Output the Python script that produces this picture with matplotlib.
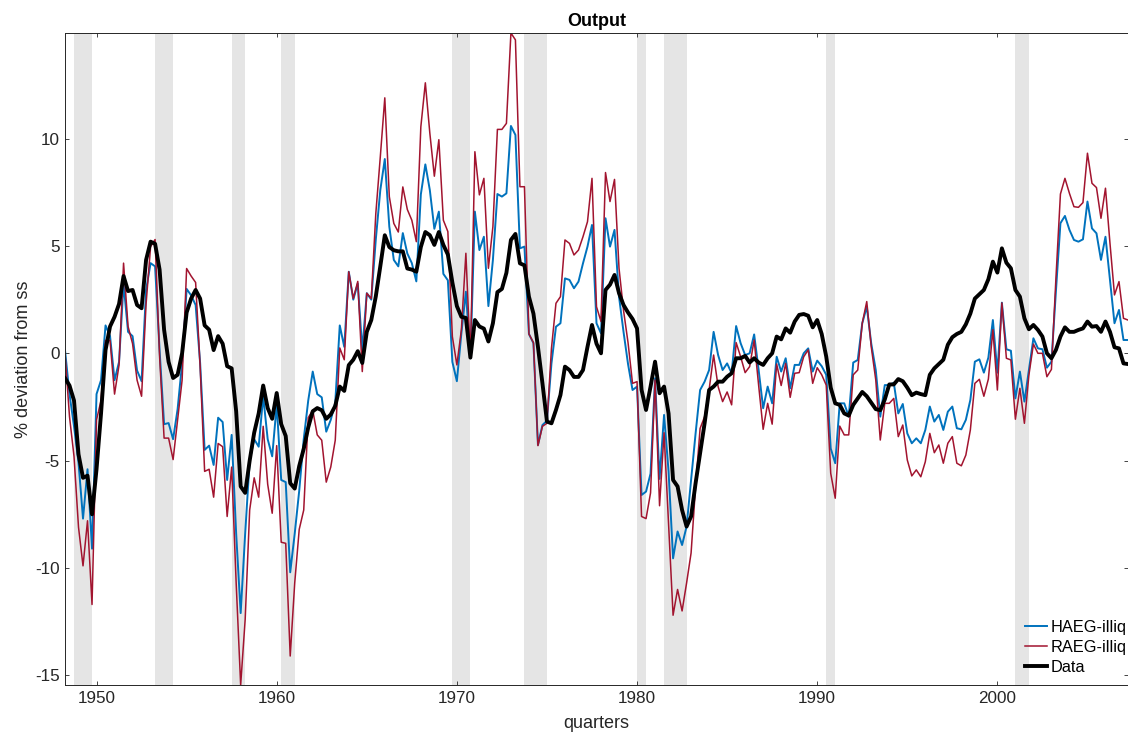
import numpy as np
import matplotlib
matplotlib.use("Agg")
import matplotlib.pyplot as plt

plt.rcParams['font.family'] = ['Liberation Sans', 'DejaVu Sans']
plt.rcParams['axes.unicode_minus'] = False

# quarterly dates: 1948Q2 .. 2007Q2 (year + (q-1)/4)
t_start = 1948.25
n_quarters = 237
quarters = t_start + 0.25 * np.arange(n_quarters)

# NBER recessions (peak, trough) as year fractions
rec_start = [1948.75, 1953.25, 1957.5, 1960.25, 1969.75, 1973.75, 1980.0, 1981.5, 1990.5, 2001.0]
rec_end = [1949.75, 1954.25, 1958.25, 1961.0, 1970.75, 1975.0, 1980.5, 1982.75, 1991.0, 2001.75]

haeg = [
    0.15, -1.9, -3.4,                      # 1948
    -5.1, -7.7, -5.4, -9.1,                # 1949
    -1.9, -1.25, 1.3, 0.8,                 # 1950
    -1.25, -0.4, 3.25, 1.0,                # 1951
    0.8, -0.8, -1.3, 2.95,                 # 1952
    4.2, 4.05, 0.15, -3.3,                 # 1953
    -3.25, -4.0, -2.6, -0.45,              # 1954
    3.0, 2.7, 2.25, -0.45,                 # 1955
    -4.5, -4.3, -5.2, -3.0,                # 1956
    -3.2, -5.9, -3.8, -8.4,                # 1957
    -12.1, -8.4, -5.0, -4.0,               # 1958
    -4.35, -2.0, -4.0, -4.8,               # 1959
    -2.4, -5.9, -6.0, -10.2,               # 1960
    -8.4, -6.4, -4.0, -2.2,                # 1961
    -0.85, -1.9, -2.05, -3.65,             # 1962
    -3.1, -2.3, 1.3, 0.3,                  # 1963
    3.8, 2.5, 3.25, 0.15,                  # 1964
    2.8, 2.5, 5.3, 7.6,                    # 1965
    9.05, 5.9, 4.35, 4.05,                 # 1966
    5.6, 4.65, 4.2, 3.35,                  # 1967
    7.4, 8.8, 7.6, 5.8,                    # 1968
    6.6, 3.7, 3.4, -0.4,                   # 1969
    -1.3, 0.93, 2.87, -0.23,               # 1970
    6.6, 4.81, 5.43, 2.2,                  # 1971
    4.35, 7.42, 7.3, 7.45,                 # 1972
    10.59, 10.17, 4.89, 4.97,              # 1973
    0.9, 0.47, -4.27, -3.34,               # 1974
    -3.14, -0.47, 1.24, 1.4,               # 1975
    3.49, 3.42, 3.03, 3.34,                # 1976
    4.19, 4.97, 5.98, 1.4,                 # 1977
    0.93, 6.29, 4.97, 5.75,                # 1978
    2.64, 1.0, -0.5, -1.71,                # 1979
    -1.55, -6.6, -6.44, -5.6,              # 1980
    -1.16, -5.85, -2.87, -5.5,             # 1981
    -9.55, -8.3, -8.93, -8.07,             # 1982
    -5.9, -3.73, -1.71, -1.32,             # 1983
    -0.78, 1.0, -0.08, -0.78,              # 1984
    -0.47, -0.93, 1.27, 0.47,              # 1985
    -0.08, 0.0, 0.88, -0.78,               # 1986
    -2.56, -1.55, -2.33, -0.16,            # 1987
    -0.85, -0.23, -1.63, -0.54,            # 1988
    -0.54, 0.0, 0.23, -0.85,               # 1989
    -0.34, -0.6, -1.0, -4.43,              # 1990
    -5.12, -2.33, -2.33, -2.95,            # 1991
    -0.43, -0.31, 1.4, 2.17,               # 1992
    0.45, -0.78, -2.95, -1.48,             # 1993
    -1.48, -1.37, -2.8, -2.36,             # 1994
    -3.73, -4.19, -3.96, -4.19,            # 1995
    -3.57, -2.48, -3.18, -2.87,            # 1996
    -3.57, -2.72, -2.48, -3.49,            # 1997
    -3.54, -3.1, -2.17, -0.39,             # 1998
    -0.28, -0.9, -0.2, 1.55,               # 1999
    -0.9, 2.36, 0.19, 0.12,                # 2000
    -2.1, -0.85, -2.25, -0.78,             # 2001
    0.7, 0.23, 0.19, -0.67,                # 2002
    -0.39, 2.9, 6.06, 6.4,                 # 2003
    5.75, 5.28, 5.2, 5.31,                 # 2004
    7.07, 5.82, 5.59, 4.35,                # 2005
    5.43, 3.42, 1.4, 2.02,                 # 2006
    0.62, 0.62,                            # 2007
]

raeg = [
    0.0, -2.95, -4.8,                      # 1948
    -8.1, -9.9, -7.8, -11.7,               # 1949
    -3.1, -2.2, 0.6, 0.6,                  # 1950
    -1.9, -0.55, 4.2, 1.25,                # 1951
    0.45, -1.25, -2.0, 2.3,                # 1952
    4.97, 5.3, -0.15, -3.95,               # 1953
    -3.95, -4.95, -3.1, -1.25,             # 1954
    3.95, 3.6, 3.3, -0.6,                  # 1955
    -5.5, -5.4, -6.7, -4.2,                # 1956
    -4.35, -7.6, -5.3, -10.7,              # 1957
    -15.45, -12.4, -7.3, -5.8,             # 1958
    -6.7, -3.4, -6.1, -7.45,               # 1959
    -4.3, -8.8, -8.85, -14.1,              # 1960
    -10.7, -8.2, -7.3, -3.0,               # 1961
    -2.65, -3.8, -4.05, -6.0,              # 1962
    -5.3, -4.05, 0.25, -0.3,               # 1963
    3.8, 2.55, 3.35, -0.85,                # 1964
    2.8, 2.55, 6.5, 9.15,                  # 1965
    11.9, 7.3, 6.05, 5.65,                 # 1966
    7.75, 6.7, 6.2, 5.2,                   # 1967
    10.55, 12.6, 10.25, 8.25,              # 1968
    9.95, 6.2, 5.67, 0.78,                 # 1969
    -0.54, 1.09, 4.66, -0.23,              # 1970
    9.39, 7.38, 8.15, 3.96,                # 1971
    5.9, 10.43, 10.43, 10.71,              # 1972
    14.92, 14.6, 7.76, 7.76,               # 1973
    0.9, 0.5, -4.3, -3.4,                  # 1974
    -3.26, 0.23, 2.33, 2.64,               # 1975
    5.28, 5.12, 4.58, 4.81,                # 1976
    5.43, 6.13, 8.15, 2.17,                # 1977
    1.48, 8.42, 7.07, 8.1,                 # 1978
    3.96, 2.0, 0.5, -1.4,                  # 1979
    -1.32, -7.6, -7.7, -6.5,               # 1980
    -1.24, -7.1, -3.7, -8.0,               # 1981
    -12.2, -11.0, -12.0, -10.7,            # 1982
    -9.3, -6.2, -3.5, -2.95,               # 1983
    -1.7, -0.08, -1.55, -2.25,             # 1984
    -1.8, -2.4, 0.5, -0.16,                # 1985
    -0.9, -0.62, 0.62, -1.5,               # 1986
    -3.54, -2.33, -3.3, -0.5,              # 1987
    -1.5, -0.47, -2.05, -0.93,             # 1988
    -0.9, -0.16, 0.16, -1.4,               # 1989
    -0.67, -1.0, -1.48, -5.59,             # 1990
    -6.75, -3.39, -3.8, -3.8,              # 1991
    -1.0, -0.78, 1.4, 2.41,                # 1992
    0.3, -1.24, -4.04, -2.33,              # 1993
    -2.33, -2.1, -3.88, -3.34,             # 1994
    -4.97, -5.71, -5.43, -5.75,            # 1995
    -5.05, -3.73, -4.63, -4.27,            # 1996
    -5.12, -4.19, -3.88, -5.12,            # 1997
    -5.24, -4.74, -3.57, -1.4,             # 1998
    -1.21, -2.0, -1.2, 1.1,                # 1999
    -1.71, 2.35, -0.23, -0.31,             # 2000
    -3.07, -1.63, -3.26, -1.01,            # 2001
    0.43, 0.0, 0.0, -1.09,                 # 2002
    -0.75, 3.5, 7.42, 8.15,                # 2003
    7.45, 6.83, 6.8, 7.02,                 # 2004
    9.32, 7.92, 7.72, 6.29,                # 2005
    7.69, 5.12, 2.72, 3.34,                # 2006
    1.63, 1.55,                            # 2007
]

data = [
    -1.16, -1.5, -2.2,                     # 1948
    -4.7, -5.8, -5.7, -7.5,                # 1949
    -5.4, -2.8, 0.15, 1.25,                # 1950
    1.7, 2.3, 3.6, 2.9,                    # 1951
    2.95, 2.25, 2.1, 4.35,                 # 1952
    5.2, 5.1, 3.9, 1.1,                    # 1953
    -0.4, -1.15, -1.0, 0.0,                # 1954
    1.9, 2.55, 2.95, 2.55,                 # 1955
    1.3, 1.1, 0.15, 0.8,                   # 1956
    0.45, -0.6, -0.7, -2.7,                # 1957
    -6.2, -6.5, -5.0, -3.7,                # 1958
    -2.8, -1.5, -2.55, -3.05,              # 1959
    -1.85, -3.3, -3.85, -6.05,             # 1960
    -6.3, -5.25, -4.45, -3.45,             # 1961
    -2.7, -2.55, -2.65, -3.05,             # 1962
    -2.85, -2.45, -1.55, -1.75,            # 1963
    -0.55, -0.3, 0.1, -0.45,               # 1964
    1.0, 1.55, 2.65, 4.05,                 # 1965
    5.5, 4.95, 4.8, 4.75,                  # 1966
    4.75, 3.95, 3.9, 3.8,                  # 1967
    4.95, 5.65, 5.5, 5.05,                 # 1968
    5.65, 5.05, 4.6, 3.3,                  # 1969
    2.2, 1.7, 1.65, -0.2,                  # 1970
    1.55, 1.25, 1.15, 0.55,                # 1971
    1.4, 2.85, 3.0, 3.75,                  # 1972
    5.28, 5.56, 4.19, 4.1,                 # 1973
    2.64, 1.85, 0.3, -1.4,                 # 1974
    -3.18, -3.26, -2.64, -1.94,            # 1975
    -0.62, -0.78, -1.1, -1.1,              # 1976
    -0.78, 0.3, 1.32, 0.45,                # 1977
    0.0, 2.95, 3.2, 3.65,                  # 1978
    2.8, 2.25, 1.9, 1.6,                   # 1979
    1.16, -1.7, -2.64, -1.55,              # 1980
    -0.39, -1.86, -1.55, -2.8,             # 1981
    -5.9, -6.2, -7.3, -8.07,               # 1982
    -7.6, -6.05, -4.66, -3.26,             # 1983
    -1.71, -1.55, -1.32, -1.32,            # 1984
    -1.09, -0.93, -0.23, -0.23,            # 1985
    -0.12, -0.43, -0.23, -0.43,            # 1986
    -0.54, -0.23, 0.0, 0.78,               # 1987
    0.65, 1.16, 0.96, 1.48,                # 1988
    1.79, 1.83, 1.75, 1.21,                # 1989
    1.55, 0.9, -0.15, -1.6,                # 1990
    -2.33, -2.4, -2.8, -2.9,               # 1991
    -2.4, -2.1, -1.8, -2.0,                # 1992
    -2.3, -2.6, -2.65, -2.15,              # 1993
    -1.45, -1.45, -1.2, -1.3,              # 1994
    -1.6, -1.95, -1.83, -1.9,              # 1995
    -1.95, -1.0, -0.7, -0.5,               # 1996
    -0.3, 0.4, 0.75, 0.9,                  # 1997
    1.0, 1.35, 1.85, 2.55,                 # 1998
    2.75, 2.95, 3.45, 4.27,                # 1999
    3.76, 4.89, 4.22, 3.96,                # 2000
    2.95, 2.64, 1.63, 1.12,                # 2001
    1.32, 1.09, 0.78, 0.0,                 # 2002
    -0.23, 0.16, 0.78, 1.21,               # 2003
    1.0, 1.0, 1.09, 1.16,                  # 2004
    1.48, 1.24, 1.27, 1.0,                 # 2005
    1.48, 1.0, 0.28, 0.23,                 # 2006
    -0.47, -0.5,                           # 2007
]

series_labels = ['HAEG-illiq', 'RAEG-illiq', 'Data']
tick_years = [1950, 1960, 1970, 1980, 1990, 2000]
y_ticks = [-15, -10, -5, 0, 5, 10]

axis_col = '#262626'
blue = '#0072BD'
red = '#A2142F'

fig = plt.figure(figsize=(11.28, 7.33), dpi=100)
ax = fig.add_axes([65 / 1128, (733 - 685) / 733, (1128 - 65) / 1128, (685 - 33) / 733])

for s, e in zip(rec_start, rec_end):
    ax.axvspan(s, e, color='#E5E5E5', lw=0, zorder=0)

ax.plot(quarters, haeg, color=blue, lw=1.4, label=series_labels[0], zorder=2)
ax.plot(quarters, raeg, color=red, lw=1.1, label=series_labels[1], zorder=2)
ax.plot(quarters, data, color='black', lw=2.8, label=series_labels[2], zorder=3)

allv = np.concatenate([haeg, raeg, data])
ax.set_xlim(quarters[0], quarters[-1])
ax.set_ylim(allv.min(), allv.max())
ax.set_xticks(tick_years)
ax.set_yticks(y_ticks)
ax.tick_params(direction='in', length=3, width=0.6, colors=axis_col, labelsize=12.3,
               pad=4, top=True, right=True, labeltop=False, labelright=False)
for sp in ax.spines.values():
    sp.set_color(axis_col)
    sp.set_linewidth(0.7)

ax.set_title('Output', fontsize=13, fontweight='bold', color='black', pad=5)
ax.set_xlabel('quarters', fontsize=13, color=axis_col, labelpad=7)
ax.set_ylabel('% deviation from ss', fontsize=13, color=axis_col, labelpad=2)

leg = ax.legend(loc='upper left', bbox_to_anchor=(1025 / 1128, (733 - 620) / 733),
                bbox_transform=fig.transFigure, frameon=False, fontsize=11.8,
                handlelength=1.35, handletextpad=0.2, labelspacing=0.3,
                borderpad=0, borderaxespad=0)

fig.savefig('out.png', dpi=100)
